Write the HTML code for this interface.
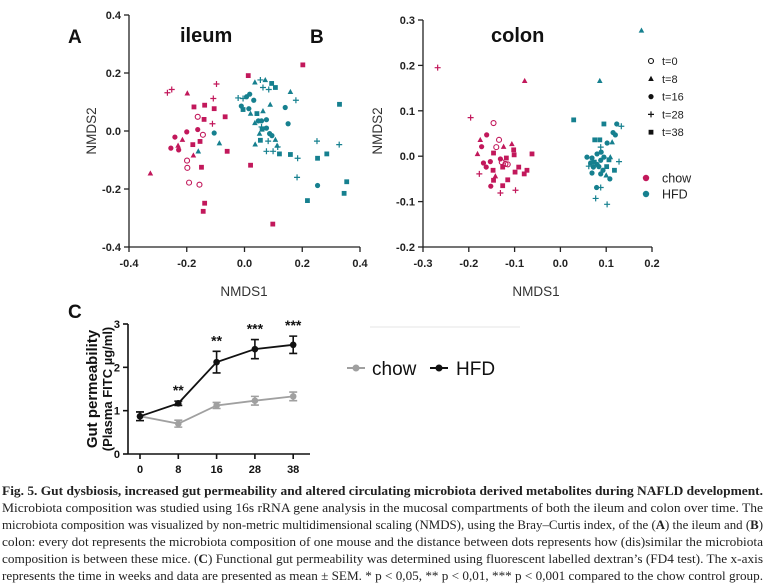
<!DOCTYPE html>
<html><head><meta charset="utf-8">
<style>
body{margin:0;background:#fff;width:765px;height:584px;overflow:hidden;position:relative;font-family:"Liberation Sans",sans-serif}
svg{position:absolute;left:0;top:0}
#caption{position:absolute;left:2px;top:482px;width:761px;font-family:"Liberation Serif",serif;font-size:13px;line-height:17px;color:#222}
#caption .ln{display:block;height:17px;white-space:nowrap}
#caption .ln span{display:inline-block;transform-origin:0 0}
#caption b{font-weight:bold}
</style></head><body>
<svg id="fig" width="765" height="480"></svg>
<div id="caption">
<div class="ln"><span><b>Fig. 5. Gut dysbiosis, increased gut permeability and altered circulating microbiota derived metabolites during NAFLD development.</b></span></div>
<div class="ln"><span>Microbiota composition was studied using 16s rRNA gene analysis in the mucosal compartments of both the ileum and colon over time. The</span></div>
<div class="ln"><span>microbiota composition was visualized by non-metric multidimensional scaling (NMDS), using the Bray–Curtis index, of the (<b>A</b>) the ileum and (<b>B</b>)</span></div>
<div class="ln"><span>colon: every dot represents the microbiota composition of one mouse and the distance between dots represents how (dis)similar the microbiota</span></div>
<div class="ln"><span>composition is between these mice. (<b>C</b>) Functional gut permeability was determined using fluorescent labelled dextran’s (FD4 test). The x-axis</span></div>
<div class="ln"><span>represents the time in weeks and data are presented as mean ± SEM. * p &lt; 0,05, ** p &lt; 0,01, *** p &lt; 0,001 compared to the chow control group.</span></div>
</div>
<script>
// ---- Panel A (ileum) data ----
const ileumChowX=[-0.267,-0.252,-0.198,-0.097,-0.175,-0.138,-0.105,-0.067,-0.14,-0.108,-0.111,-0.162,-0.144,-0.199,-0.198,-0.192,-0.156,-0.2,-0.162,-0.241,-0.255,-0.228,-0.215,-0.177,-0.326,-0.23,-0.179,-0.154,-0.06,-0.149,-0.138,-0.143,0.021,0.098,0.202,0.013];
const ileumChowY=[0.132,0.143,0.13,0.162,0.083,0.089,0.077,0.049,0.04,0.112,0.025,0.049,-0.013,-0.102,-0.127,-0.178,-0.185,-0.003,0.005,-0.021,-0.059,-0.065,-0.03,-0.084,-0.146,-0.05,-0.047,-0.036,-0.07,-0.125,-0.249,-0.277,-0.118,-0.321,0.228,0.191];
const ileumChowT=[28,28,8,28,38,38,38,38,38,28,28,0,0,0,0,0,0,16,16,16,16,16,8,8,8,8,38,38,38,38,38,38,38,38,38,38];
const ileumHfdX=[-0.105,-0.087,-0.16,-0.022,-0.011,0.007,0.018,0.032,0.015,-0.005,0.036,0.055,0.072,0.094,0.107,0.064,0.084,0.159,0.178,0.141,0.151,0.089,0.043,0.064,0.048,0.059,0.076,0.021,0.036,0.059,0.061,0.076,0.052,0.087,0.095,0.055,0.037,0.082,0.107,0.113,0.076,0.099,0.115,0.121,0.159,0.251,0.328,0.285,0.253,0.184,0.182,0.253,0.354,0.345,0.218,0.329,-0.005];
const ileumHfdY=[-0.007,-0.042,-0.07,0.114,0.086,0.118,0.127,0.106,0.077,0.074,0.168,0.176,0.176,0.164,0.15,0.15,0.143,0.135,0.106,0.081,0.025,0.091,0.06,0.069,0.035,0.035,0.039,0.06,0.028,0.014,0.006,0.01,-0.009,-0.009,-0.016,-0.032,-0.046,-0.035,-0.03,-0.05,-0.07,-0.07,-0.055,-0.079,-0.081,-0.035,-0.047,-0.079,-0.094,-0.094,-0.16,-0.188,-0.175,-0.215,-0.24,0.092,0.112];
const ileumHfdT=[16,8,8,28,16,16,16,16,16,38,8,28,8,38,38,28,28,8,28,16,16,8,38,8,16,16,16,8,8,28,38,16,8,16,16,38,8,28,8,8,28,28,28,38,38,28,28,38,38,28,28,16,38,38,38,38,28];
// ---- Panel B (colon) data ----
const colonChowX=[-0.268,-0.196,-0.078,-0.146,-0.134,-0.14,-0.128,-0.12,-0.115,-0.161,-0.172,-0.168,-0.162,-0.153,-0.152,-0.131,-0.175,-0.181,-0.124,-0.106,-0.142,-0.146,-0.102,-0.101,-0.062,-0.118,-0.126,-0.147,-0.091,-0.099,-0.073,-0.079,-0.115,-0.146,-0.126,-0.177,-0.131,-0.098];
const colonChowY=[0.195,0.085,0.166,0.073,0.036,0.02,-0.013,-0.017,-0.018,0.047,0.021,-0.015,-0.024,-0.012,-0.066,-0.006,0.036,0.005,0.021,0.027,-0.044,0.007,0.014,0.003,0.005,-0.004,-0.024,-0.031,-0.024,-0.035,-0.031,-0.039,-0.052,-0.053,-0.065,-0.039,-0.081,-0.075];
const colonChowT=[28,28,8,0,0,0,0,0,0,16,16,16,16,16,16,16,8,8,8,8,8,38,38,38,38,38,38,38,38,38,38,38,38,38,38,28,28,28];
const colonHfdX=[0.177,0.086,0.029,0.095,0.123,0.133,0.115,0.12,0.075,0.086,0.102,0.113,0.088,0.058,0.069,0.08,0.088,0.095,0.074,0.106,0.101,0.072,0.084,0.093,0.069,0.1,0.118,0.108,0.088,0.062,0.128,0.109,0.079,0.088,0.077,0.102,0.08,0.089,0.066];
const colonHfdY=[0.277,0.166,0.08,0.071,0.071,0.066,0.052,0.047,0.036,0.036,0.029,0.031,0.02,-0.002,-0.004,0.005,-0.009,-0.002,-0.013,-0.008,-0.023,-0.024,-0.023,-0.031,-0.037,-0.042,-0.031,-0.05,-0.039,-0.022,-0.012,-0.002,-0.069,-0.069,-0.093,-0.106,-0.018,0.009,-0.015];
const colonHfdT=[8,8,38,38,16,28,16,16,38,38,16,8,28,16,16,16,16,16,38,38,38,16,16,16,16,8,38,16,16,28,28,8,16,28,28,28,16,16,16];
// ---- Panel C data ----
const weeks=["0","8","16","28","38"];
const chowMean=[0.87,0.70,1.12,1.23,1.33];
const chowSem=[0.10,0.08,0.07,0.10,0.10];
const hfdMean=[0.87,1.17,2.12,2.42,2.52];
const hfdSem=[0.10,0.05,0.25,0.22,0.20];
const sigLabels=["","**","**","***","***"];
const cYTicks=[0,1,2,3];
const aXTicks=[-0.4,-0.2,0.0,0.2,0.4], aYTicks=[0.4,0.2,0.0,-0.2,-0.4];
const bXTicks=[-0.3,-0.2,-0.1,0.0,0.1,0.2], bYTicks=[0.3,0.2,0.1,0.0,-0.1,-0.2];
const legendTimes=[0,8,16,28,38];

const NS="http://www.w3.org/2000/svg";
const svg=document.getElementById('fig');
const MAG="#c2185b", TEAL="#16808f";
function mk(tag,attrs,parent){const e=document.createElementNS(NS,tag);for(const k in attrs)e.setAttribute(k,attrs[k]);(parent||svg).appendChild(e);return e;}
function txt(s,attrs,parent){const e=mk('text',attrs,parent);e.textContent=s;return e;}
function fmt(v,d){return (v<0?"-":"")+Math.abs(v).toFixed(d);}

function marker(g,t,x,y,col){
  let e;
  if(t===0){e=mk('circle',{cx:x,cy:y,r:2.5,fill:'none',stroke:col,'stroke-width':1.1},g);}
  else if(t===8){e=mk('polygon',{points:`${x},${y-3} ${x-2.8},${y+2.2} ${x+2.8},${y+2.2}`,fill:col},g);}
  else if(t===16){e=mk('circle',{cx:x,cy:y,r:2.6,fill:col},g);}
  else if(t===28){e=mk('path',{d:`M${x-3},${y}H${x+3}M${x},${y-3}V${y+3}`,stroke:col,'stroke-width':1.2},g);}
  else {e=mk('rect',{x:x-2.4,y:y-2.4,width:4.8,height:4.8,fill:col},g);}
  return e;
}

function scatterPanel(name,ax,xT,yT,dec,series){
  const g=mk('g',{});
  
  
  const sx=v=>ax.x0+(v-ax.xmin)/(ax.xmax-ax.xmin)*(ax.x1-ax.x0);
  const sy=v=>ax.y0-(v-ax.ymin)/(ax.ymax-ax.ymin)*(ax.y0-ax.y1);
  const axes=mk('g',{stroke:'#222','stroke-width':1.3},g);
  
  
  mk('line',{x1:ax.x0,y1:ax.y1,x2:ax.x0,y2:ax.y0},axes);
  mk('line',{x1:ax.x0,y1:ax.y0,x2:ax.x1,y2:ax.y0},axes);
  xT.forEach(v=>{mk('line',{x1:sx(v),y1:ax.y0,x2:sx(v),y2:ax.y0+5},axes);
    const l=txt(fmt(v,1),{x:sx(v),y:ax.y0+20,'text-anchor':'middle','font-size':11,'font-weight':'bold',fill:'#222'},g);
    
    });
  yT.forEach(v=>{mk('line',{x1:ax.x0-5,y1:sy(v),x2:ax.x0,y2:sy(v)},axes);
    const l=txt(fmt(v,1),{x:ax.x0-8,y:sy(v)+4,'text-anchor':'end','font-size':11,'font-weight':'bold',fill:'#222'},g);
    
    });
  series.forEach(s=>{
    const sg=mk('g',{},g);
    
    
    s.x.forEach((v,i)=>{const m=marker(sg,s.t[i],sx(v),sy(s.y[i]),s.col);
      
      });
  });
  return g;
}
scatterPanel('ileum-nmds-plot',{x0:129,x1:360,y0:247,y1:15,xmin:-0.4,xmax:0.4,ymin:-0.4,ymax:0.4},aXTicks,aYTicks,1,
 [{name:'ileum-chow-points',x:ileumChowX,y:ileumChowY,t:ileumChowT,col:MAG},{name:'ileum-hfd-points',x:ileumHfdX,y:ileumHfdY,t:ileumHfdT,col:TEAL}]);
scatterPanel('colon-nmds-plot',{x0:423,x1:652,y0:247,y1:20,xmin:-0.3,xmax:0.2,ymin:-0.2,ymax:0.3},bXTicks,bYTicks,1,
 [{name:'colon-chow-points',x:colonChowX,y:colonChowY,t:colonChowT,col:MAG},{name:'colon-hfd-points',x:colonHfdX,y:colonHfdY,t:colonHfdT,col:TEAL}]);

// labels
[["A",68,43,19,'panel-label-a'],["B",310,43,19,'panel-label-b'],["C",68,318,19,'panel-label-c']].forEach(a=>{
  const t=txt(a[0],{x:a[1],y:a[2],'font-size':a[3],'font-weight':'bold',fill:'#111'});
  
  });
let t1=txt("ileum",{x:180,y:42,'font-size':20,'font-weight':'bold',fill:'#111'});


let t2=txt("colon",{x:491,y:42,'font-size':20,'font-weight':'bold',fill:'#111'});


[[244,296,'a-x-axis-title'],[536,296,'b-x-axis-title']].forEach(a=>{
  const t=txt("NMDS1",{x:a[0],y:a[1],'text-anchor':'middle','font-size':13.5,fill:'#333'});
  
  });
[[96,131,'a-y-axis-title'],[382,131,'b-y-axis-title']].forEach(a=>{
  const t=txt("NMDS2",{x:a[0],y:a[1],'text-anchor':'middle','font-size':13.5,fill:'#333',transform:`rotate(-90 ${a[0]} ${a[1]})`});
  
  });

// legend B
const lg=mk('g',{});


legendTimes.forEach((tm,i)=>{const y=61+i*17.8;
  const m=marker(lg,tm,651,y,'#111');
  
  
  const t=txt("t="+tm,{x:662,y:y+4,'font-size':11,fill:'#222'},lg);
  
  });
[["chow",MAG,178],["HFD",TEAL,194]].forEach(a=>{
  const c=mk('circle',{cx:646,cy:a[2],r:3.2,fill:a[1]},lg);
  
  
  const t=txt(a[0],{x:662,y:a[2]+4.5,'font-size':12.5,fill:'#222'},lg);
  
  });

// ---- Panel C ----
const cg=mk('g',{});


const cx0=128,cxEnd=310,cy0=454,cy3=324;
const cxs=i=>140+i*38.3;
const cys=v=>cy0-v/3*(cy0-cy3);
const cax=mk('g',{stroke:'#111','stroke-width':1.6},cg);


mk('line',{x1:cx0,y1:cy3,x2:cx0,y2:cy0},cax);
mk('line',{x1:cx0,y1:cy0,x2:cxEnd,y2:cy0},cax);
cYTicks.forEach(v=>{mk('line',{x1:cx0-5,y1:cys(v),x2:cx0,y2:cys(v)},cax);
  const t=txt(String(v),{x:cx0-8,y:cys(v)+4,'text-anchor':'end','font-size':11,'font-weight':'bold',fill:'#111'},cg);
  
  });
weeks.forEach((w,i)=>{mk('line',{x1:cxs(i),y1:cy0,x2:cxs(i),y2:cy0+5},cax);
  const t=txt(w,{x:cxs(i),y:cy0+19,'text-anchor':'middle','font-size':11,'font-weight':'bold',fill:'#111'},cg);
  
  });
function lineSeries(name,mean,sem,col){
  const g=mk('g',{},cg);
  
  
  mk('polyline',{points:mean.map((v,i)=>cxs(i)+','+cys(v)).join(' '),fill:'none',stroke:col,'stroke-width':1.8},g);
  mean.forEach((v,i)=>{const x=cxs(i);
    const eb=mk('path',{d:`M${x},${cys(v+sem[i])}V${cys(v-sem[i])}M${x-4},${cys(v+sem[i])}H${x+4}M${x-4},${cys(v-sem[i])}H${x+4}`,stroke:col,'stroke-width':1.6,fill:'none'},g);
    
    
    const p=mk('circle',{cx:x,cy:cys(v),r:3.3,fill:col},g);
    
    });
}
lineSeries('chow-series',chowMean,chowSem,'#a0a0a0');
lineSeries('hfd-series',hfdMean,hfdSem,'#111');
sigLabels.forEach((s,i)=>{if(!s)return;
  const t=txt(s,{x:cxs(i),y:cys(hfdMean[i]+hfdSem[i])-6,'text-anchor':'middle','font-size':14,'font-weight':'bold',fill:'#111'},cg);
  
  });
const yt=txt("Gut permeability",{x:0,y:0,'text-anchor':'middle','font-size':15,'font-weight':'bold',fill:'#111',transform:'translate(97,389) rotate(-90)'},cg);


const yt2=txt("(Plasma FITC µg/ml)",{x:0,y:0,'text-anchor':'middle','font-size':13,'font-weight':'bold',fill:'#111',transform:'translate(112,389) rotate(-90)'},cg);


// legend C
const lc=mk('g',{},cg);


mk('line',{x1:347,y1:368,x2:365,y2:368,stroke:'#a0a0a0','stroke-width':2},lc);
mk('circle',{cx:356,cy:368,r:3.5,fill:'#a0a0a0'},lc);
let lt=txt("chow",{x:372,y:375,'font-size':19,fill:'#111'},lc);


mk('line',{x1:430,y1:368,x2:448,y2:368,stroke:'#111','stroke-width':2},lc);
mk('circle',{cx:439,cy:368,r:3.5,fill:'#111'},lc);
lt=txt("HFD",{x:456,y:375,'font-size':19,fill:'#111'},lc);


const sep=mk('line',{x1:370,y1:327,x2:520,y2:327,stroke:'#e6e6e6','stroke-width':1});



// fit caption lines to full width
document.querySelectorAll('#caption .ln span').forEach(s=>{
  const w=s.getBoundingClientRect().width;
  s.style.transform='scaleX('+(761/w)+')';
});
</script>
</body></html>
